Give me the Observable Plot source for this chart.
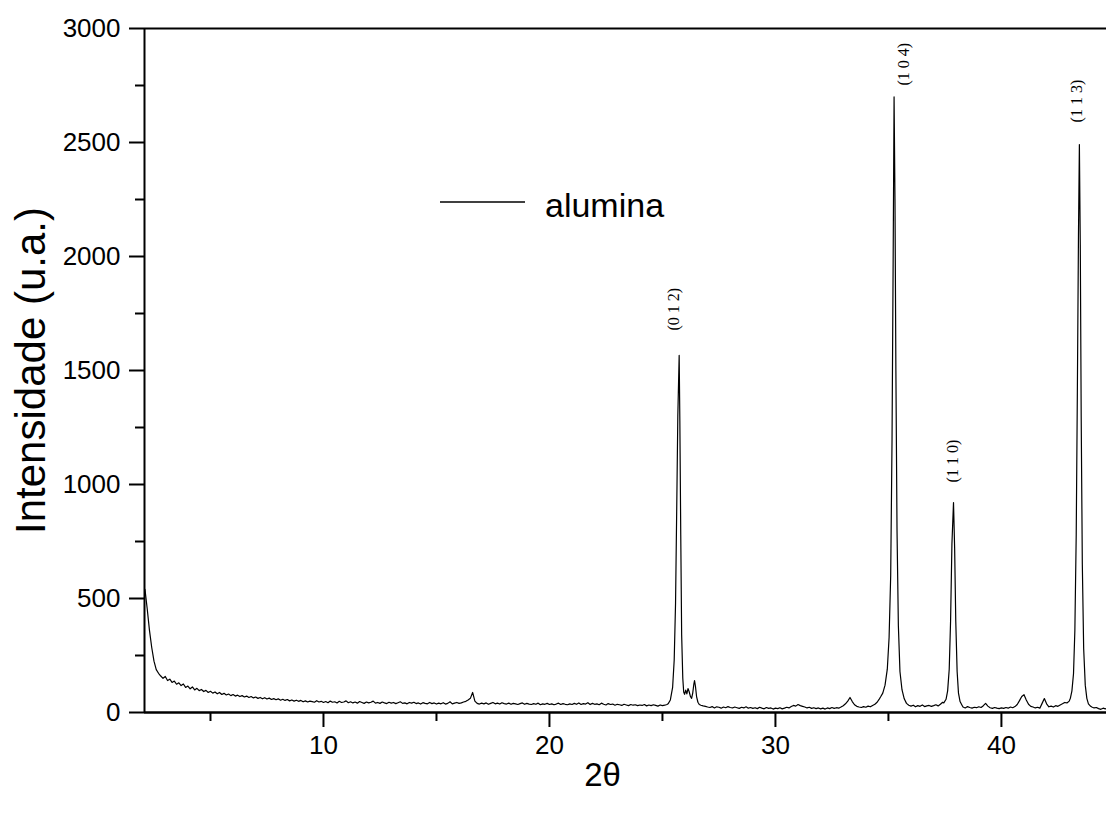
<!DOCTYPE html>
<html><head><meta charset="utf-8">
<script src="https://cdn.jsdelivr.net/npm/d3@7"></script>
<script src="https://cdn.jsdelivr.net/npm/@observablehq/plot@0.6"></script>
<style>
html,body{margin:0;padding:0;background:#fff;}
#wrap{position:relative;width:1106px;height:813px;}
#wrap svg{display:block;}
#legend{position:absolute;left:0;top:0;pointer-events:none;}
</style></head><body><div id="wrap"></div>
<script>
// ---- data ----
const seriesName = "alumina";
const xTitle = "2θ";
const yTitle = "Intensidade (u.a.)";
const xDomain = [2.08, 44.65];
const yDomain = [0, 3000];
const xTicks = [10, 20, 30, 40];
const xMinorTicks = [5, 15, 25, 35];
const yTicks = [0, 500, 1000, 1500, 2000, 2500, 3000];
const yMinorTicks = [250, 750, 1250, 1750, 2250, 2750];

// background scan, sampled every 0.1° starting at 2.1°
const scanStart = 2.1, scanStep = 0.1;
const scanCounts = [
  540,455,360,285,225,188,172,160,150,158,
  140,146,132,138,124,130,118,125,110,116,
  104,112,99,106,96,101,92,97,88,93,
  85,90,82,88,79,84,77,81,74,79,
  72,76,70,74,68,72,66,70,64,68,
  62,66,60,65,59,63,57,61,56,60,
  54,58,53,57,51,55,50,54,49,53,
  47,51,46,50,48,45,52,46,49,44,
  48,43,50,45,47,42,49,44,46,51,
  43,47,42,46,41,48,44,40,46,42,
  45,50,41,44,40,46,42,39,45,41,
  44,39,43,47,40,42,38,44,41,45,
  39,42,37,43,40,38,44,39,42,37,
  41,38,43,37,40,47,38,41,44,40,
  42,46,49,55,62,88,50,40,37,41,
  38,42,36,40,44,38,41,37,43,39,
  37,41,36,40,38,35,39,42,36,40,
  37,35,39,36,41,34,38,36,40,35,
  38,34,37,41,35,39,36,34,38,35,
  40,36,42,35,39,37,43,35,40,36,
  38,34,41,36,33,39,35,37,32,36,
  34,31,36,33,30,35,32,34,30,33,
  31,35,29,33,30,34,31,28,33,30,
  32,35,38,30,30,30,30,30,30,30,
  30,30,30,30,30,30,32,29,27,24,
  22,26,20,25,23,19,24,21,26,22,
  20,24,21,18,23,20,25,19,22,18,
  21,17,23,19,16,22,18,20,15,19,
  17,21,16,19,23,20,26,31,28,35,
  30,27,24,20,23,18,21,17,20,16,
  19,15,20,17,22,18,21,19,24,30,
  38,50,66,48,34,27,24,22,26,23,
  28,25,31,36,45,60,30,30,30,30,
  30,30,30,30,30,30,30,30,30,28,
  32,25,30,27,33,26,29,31,27,30,
  34,29,36,45,30,30,30,30,30,30,
  30,30,24,20,26,22,19,23,21,25,
  22,30,40,28,21,18,22,19,17,20,
  18,22,19,24,21,26,35,52,70,78,
  55,36,27,24,20,23,19,40,61,38,
  25,28,24,30,27,33,38,44,42,50,
  30,30,30,30,30,30,30,30,30,24,
  20,22,17,14,19,16,18
];

// finely read peak profiles [2θ, counts]
const peak012 = [[25.25,38],[25.35,55],[25.45,110],[25.52,230],[25.58,480],[25.63,880],[25.68,1300],[25.74,1566],[25.77,1280],[25.81,780],[25.85,340],[25.90,150],[25.94,90],[25.98,80],[26.03,98],[26.08,82],[26.13,105],[26.18,92],[26.24,70],[26.29,62],[26.34,85],[26.39,125],[26.42,140],[26.46,115],[26.51,70],[26.57,45],[26.63,35]];
const peak104 = [[34.65,68],[34.75,85],[34.85,120],[34.95,190],[35.03,330],[35.10,600],[35.16,1200],[35.21,2000],[35.25,2700],[35.29,2250],[35.33,1500],[35.38,800],[35.44,380],[35.51,180],[35.60,100],[35.70,60],[35.80,40],[35.90,32]];
const peak110 = [[37.45,42],[37.55,58],[37.62,95],[37.69,190],[37.75,400],[37.81,740],[37.88,921],[37.93,720],[37.98,400],[38.04,180],[38.10,85],[38.17,48],[38.25,33]];
const peak113 = [[43.05,62],[43.12,95],[43.19,170],[43.25,360],[43.31,780],[43.36,1400],[43.41,2100],[43.45,2491],[43.49,2050],[43.53,1300],[43.58,650],[43.64,280],[43.71,120],[43.78,62],[43.85,38],[43.95,27]];

// reflection labels
const peakLabels = ["(0 1 2)", "(1 0 4)", "(1 1 0)", "(1 1 3)"];
const labelX = [25.49, 35.69, 37.83, 43.36];
const labelY = [1675, 2750, 1009, 2588];

// ---- assemble ----
const peaks = [peak012, peak104, peak110, peak113];
const ranges = peaks.map(p => [p[0][0], p[p.length - 1][0]]);
const pts = [];
scanCounts.forEach((c, i) => {
  const x = +(scanStart + i * scanStep).toFixed(2);
  if (!ranges.some(([a, b]) => x >= a && x <= b)) pts.push({x, y: c});
});
peaks.forEach(p => p.forEach(([x, y]) => pts.push({x, y})));
pts.sort((a, b) => a.x - b.x);
const labels = peakLabels.map((t, i) => ({t, x: labelX[i], y: labelY[i]}));

const chart = Plot.plot({
  width: 1106, height: 813,
  marginTop: 28, marginLeft: 144, marginRight: 0, marginBottom: 101,
  style: {fontFamily: "'Liberation Sans', Arial, sans-serif", fontSize: "26px", color: "#000", background: "#fff", overflow: "visible"},
  x: {domain: xDomain, label: null},
  y: {domain: yDomain, label: null},
  marks: [
    Plot.line(pts, {x: "x", y: "y", stroke: "#000", strokeWidth: 1.2, clip: true}),
    Plot.text(labels, {x: "x", y: "y", text: "t", rotate: -90, textAnchor: "start", lineAnchor: "middle", fontFamily: "'Liberation Serif', 'Times New Roman', serif", fontSize: 16, fill: "#000"}),
    Plot.ruleY([yDomain[0]], {stroke: "#000", strokeWidth: 2.5}),
    Plot.ruleY([yDomain[1]], {stroke: "#000", strokeWidth: 2}),
    Plot.ruleX([xDomain[0]], {stroke: "#000", strokeWidth: 2}),
    Plot.axisX(xMinorTicks, {tickSize: 9, strokeWidth: 2, tickFormat: () => "", label: null}),
    Plot.axisX(xTicks, {tickSize: 15, tickPadding: 8, strokeWidth: 2, tickFormat: "d", label: null}),
    Plot.axisY(yMinorTicks, {tickSize: 9, strokeWidth: 2, tickFormat: () => "", label: null}),
    Plot.axisY(yTicks, {tickSize: 15, tickPadding: 9, strokeWidth: 2, tickFormat: "d", label: null}),
    Plot.text([xTitle], {frameAnchor: "bottom", dx: -23, dy: 73, fontSize: 33, fill: "#000"}),
    Plot.text([yTitle], {frameAnchor: "left", dx: -113, rotate: -90, textAnchor: "middle", fontSize: 42, fill: "#000"})
  ]
});
document.getElementById("wrap").appendChild(chart);

// legend inside the plot area
const ov = d3.select("#wrap").append("svg").attr("id", "legend").attr("width", 1106).attr("height", 813);
ov.append("line").attr("x1", 440).attr("x2", 525).attr("y1", 202).attr("y2", 202)
  .attr("stroke", "#000").attr("stroke-width", 1.3);
ov.append("text").attr("x", 545).attr("y", 217).text(seriesName)
  .attr("font-family", "'Liberation Sans', Arial, sans-serif").attr("font-size", 34).attr("fill", "#000");
</script>
</body></html>
